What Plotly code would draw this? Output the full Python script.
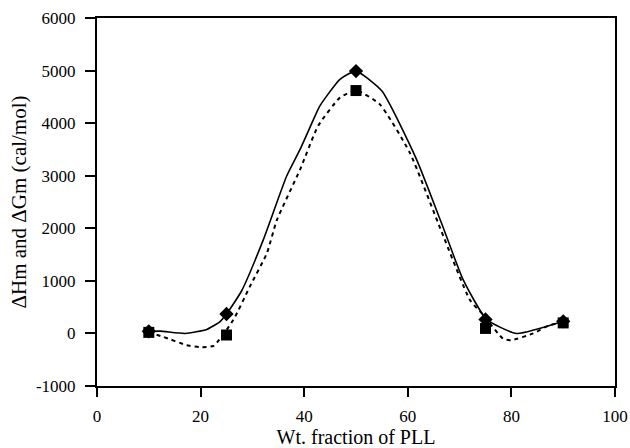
import plotly.graph_objects as go

# Measured data points
wt_fraction = [10, 25, 50, 75, 90]
delta_hm = [40, 370, 4990, 265, 230]
delta_gm = [20, -30, 4620, 95, 200]

# Smoothed curves
hm_curve_x = [10, 12.2, 17, 21.2, 23.7, 25, 27.9, 32.1, 36.6, 39.2, 41.8, 43, 46.9, 50, 55, 61.7, 66.5, 70.7, 75.2, 81, 90]
hm_curve_y = [40, 44, 0, 76, 221, 370, 807, 1780, 2989, 3500, 4071, 4324, 4834, 4990, 4611, 3307, 2100, 1017, 267, 0, 230]

gm_curve_x = [10, 12.8, 17.3, 19.9, 22.5, 26.3, 29.5, 32.8, 34.7, 39.2, 42.7, 46.9, 50, 54.6, 60.4, 66.5, 72, 74.6, 78.4, 80, 84.2, 87.4, 90]
gm_curve_y = [20, -65, -223, -261, -236, 254, 890, 1527, 2150, 3117, 3950, 4485, 4624, 4357, 3435, 1940, 636, 349, -100, -128, 0, 158, 200]

x_ticks = [0, 20, 40, 60, 80, 100]
y_ticks = [-1000, 0, 1000, 2000, 3000, 4000, 5000, 6000]
y_tick_labels = ["-1000", "0", "1000", "2000", "3000", "4000", "5000", "6000"]

fig = go.Figure()
fig.add_trace(go.Scatter(x=hm_curve_x, y=hm_curve_y, mode="lines",
                         line=dict(color="black", width=1.6, shape="spline", smoothing=0.5),
                         showlegend=False, hoverinfo="skip"))
fig.add_trace(go.Scatter(x=gm_curve_x, y=gm_curve_y, mode="lines",
                         line=dict(color="black", width=2, dash="4px,4px", shape="spline", smoothing=0.5),
                         showlegend=False, hoverinfo="skip"))
fig.add_trace(go.Scatter(x=wt_fraction, y=delta_hm, mode="markers", name="ΔHm",
                         marker=dict(symbol="diamond", size=11, color="black"), showlegend=False))
fig.add_trace(go.Scatter(x=wt_fraction, y=delta_gm, mode="markers", name="ΔGm",
                         marker=dict(symbol="square", size=11, color="black"), showlegend=False))

font_family = "Liberation Serif"
fig.update_layout(
    width=630, height=448,
    margin=dict(l=97, r=15, t=18, b=62),
    paper_bgcolor="white", plot_bgcolor="white",
    font=dict(family=font_family, color="black", size=17),
)
fig.update_xaxes(
    range=[0, 100], tickvals=x_ticks, ticks="outside", ticklen=9, tickwidth=1.5, tickcolor="black",
    showline=True, linecolor="black", linewidth=2, mirror=True, showgrid=False, zeroline=False,
    tickfont=dict(family=font_family, size=17), ticklabelstandoff=5,
    title=dict(text="Wt. fraction of PLL", font=dict(family=font_family, size=20), standoff=10),
    automargin=False,
)
fig.update_yaxes(
    range=[-1000, 6000], tickvals=y_ticks, ticktext=y_tick_labels, ticks="outside", ticklen=10,
    tickwidth=1.5, tickcolor="black",
    showline=True, linecolor="black", linewidth=2, mirror=True, showgrid=False, zeroline=False,
    tickfont=dict(family=font_family, size=17), ticklabelstandoff=6,
    title=dict(text="ΔHm and ΔGm (cal/mol)", font=dict(family=font_family, size=21), standoff=4),
    automargin=False,
)

fig.write_html("out.html", config={"displayModeBar": False},
               post_script="document.body.style.margin='0px';")
